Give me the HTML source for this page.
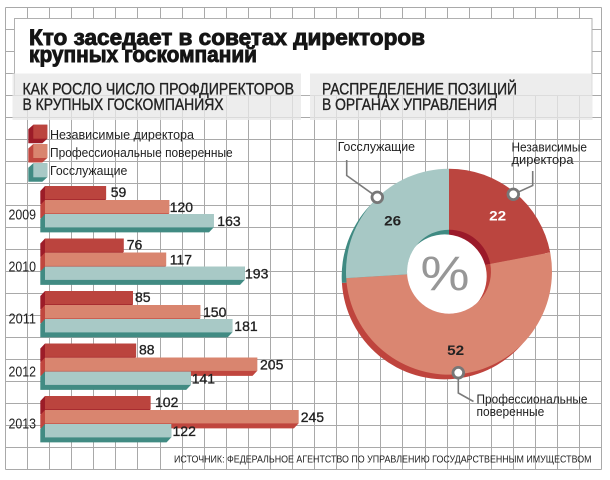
<!DOCTYPE html>
<html><head><meta charset="utf-8">
<style>
html,body{margin:0;padding:0;background:#fff;}
svg{display:block;}
text{font-family:"Liberation Sans","Noto Sans CJK SC",sans-serif;}
</style></head>
<body>
<svg width="610" height="480" viewBox="0 0 610 480" xmlns="http://www.w3.org/2000/svg">
<rect x="0" y="0" width="610" height="480" fill="#fff"/>
<!-- grid -->
<g stroke="#a9a9a9" stroke-width="1" fill="none">
<path d="M5.5 7.5V469.5M27.5 7.5V469.5M49.5 7.5V469.5M71.5 7.5V469.5M93.5 7.5V469.5M115.5 7.5V469.5M137.5 7.5V469.5M160.5 7.5V469.5M182.5 7.5V469.5M204.5 7.5V469.5M226.5 7.5V469.5M248.5 7.5V469.5M270.5 7.5V469.5M292.5 7.5V469.5M314.5 7.5V469.5M336.5 7.5V469.5M358.5 7.5V469.5M380.5 7.5V469.5M402.5 7.5V469.5M425.5 7.5V469.5M447.5 7.5V469.5M469.5 7.5V469.5M491.5 7.5V469.5M513.5 7.5V469.5M535.5 7.5V469.5M557.5 7.5V469.5M579.5 7.5V469.5M601.5 7.5V469.5"/>
<path d="M5.5 7.5H601.5M5.5 29.5H601.5M5.5 51.5H601.5M5.5 73.5H601.5M5.5 95.5H601.5M5.5 117.5H601.5M5.5 139.5H601.5M5.5 161.5H601.5M5.5 183.5H601.5M5.5 205.5H601.5M5.5 227.5H601.5M5.5 249.5H601.5M5.5 271.5H601.5M5.5 293.5H601.5M5.5 315.5H601.5M5.5 337.5H601.5M5.5 359.5H601.5M5.5 381.5H601.5M5.5 403.5H601.5M5.5 425.5H601.5M5.5 447.5H601.5M5.5 469.5H601.5"/>
</g>
<!-- title box -->
<rect x="14.5" y="18.5" width="577.5" height="77" fill="#fff" stroke="#b0b0b0" stroke-width="1"/>
<rect x="12.5" y="73.5" width="288.5" height="46.5" fill="#e8e8e8" fill-opacity="0.78"/>
<rect x="310" y="73.5" width="282.5" height="46.5" fill="#e8e8e8" fill-opacity="0.78"/>
<text x="29" y="45" font-size="22" font-weight="bold" fill="#151515" stroke="#151515" stroke-width="0.9" textLength="396" lengthAdjust="spacingAndGlyphs">Кто заседает в советах директоров</text>
<text x="29" y="62" font-size="22" font-weight="bold" fill="#151515" stroke="#151515" stroke-width="0.9" textLength="228" lengthAdjust="spacingAndGlyphs">крупных госкомпаний</text>
<g font-size="16.5" fill="#222" stroke="#222" stroke-width="0.35">
<text x="22.5" y="94.3" textLength="271.5" lengthAdjust="spacingAndGlyphs">КАК РОСЛО ЧИСЛО ПРОФДИРЕКТОРОВ</text>
<text x="22.5" y="110" textLength="201" lengthAdjust="spacingAndGlyphs">В КРУПНЫХ ГОСКОМПАНИЯХ</text>
<text x="322" y="94.3" textLength="195" lengthAdjust="spacingAndGlyphs">РАСПРЕДЕЛЕНИЕ ПОЗИЦИЙ</text>
<text x="322" y="110" textLength="175" lengthAdjust="spacingAndGlyphs">В ОРГАНАХ УПРАВЛЕНИЯ</text>
</g>
<!-- legend -->
<polygon points="33.3,124.7 47.3,124.7 47.3,138.7 42.3,143.2 28.3,143.2 28.3,129.2" fill="#9c1c28"/>
<rect x="33.3" y="124.7" width="14" height="14" fill="#bb443e"/>
<polygon points="33.3,144 47.3,144 47.3,158 42.3,162.5 28.3,162.5 28.3,148.5" fill="#c0463e"/>
<rect x="33.3" y="144" width="14" height="14" fill="#d9856f"/>
<polygon points="33.3,163.3 47.3,163.3 47.3,177.3 42.3,181.8 28.3,181.8 28.3,167.8" fill="#418b83"/>
<rect x="33.3" y="163.3" width="14" height="14" fill="#a8c9c6"/>
<g font-size="13" fill="#222">
<text x="50" y="138.9" textLength="144" lengthAdjust="spacingAndGlyphs">Независимые директора</text>
<text x="50" y="157" textLength="182.7" lengthAdjust="spacingAndGlyphs">Профессиональные поверенные</text>
<text x="50" y="175.2" textLength="77.3" lengthAdjust="spacingAndGlyphs">Госслужащие</text>
</g>
<!-- bars -->
<g>
<polygon points="45,186 106.07,186 106.07,199.4 101.37,204.4 40.3,204.4 40.3,191" fill="#9c1c28"/>
<rect x="45" y="186" width="61.07" height="13.4" fill="#bb443e"/>
<polygon points="45,200 169.2,200 169.2,213.4 164.5,218.4 40.3,218.4 40.3,205" fill="#c0463e"/>
<rect x="45" y="200" width="124.2" height="13.4" fill="#d9856f"/>
<polygon points="45,214 213.7,214 213.7,227.4 209,232.4 40.3,232.4 40.3,219" fill="#418b83"/>
<rect x="45" y="214" width="168.7" height="13.4" fill="#a8c9c6"/>
</g>
<g transform="translate(0,52.5)">
<polygon points="45,186 123.66,186 123.66,199.4 118.96,204.4 40.3,204.4 40.3,191" fill="#9c1c28"/>
<rect x="45" y="186" width="78.66" height="13.4" fill="#bb443e"/>
<polygon points="45,200 166.1,200 166.1,213.4 161.4,218.4 40.3,218.4 40.3,205" fill="#c0463e"/>
<rect x="45" y="200" width="121.1" height="13.4" fill="#d9856f"/>
<polygon points="45,214 244.76,214 244.76,227.4 240.06,232.4 40.3,232.4 40.3,219" fill="#418b83"/>
<rect x="45" y="214" width="199.76" height="13.4" fill="#a8c9c6"/>
</g>
<g transform="translate(0,105)">
<polygon points="45,186 132.98,186 132.98,199.4 128.28,204.4 40.3,204.4 40.3,191" fill="#9c1c28"/>
<rect x="45" y="186" width="87.98" height="13.4" fill="#bb443e"/>
<polygon points="45,200 200.25,200 200.25,213.4 195.55,218.4 40.3,218.4 40.3,205" fill="#c0463e"/>
<rect x="45" y="200" width="155.25" height="13.4" fill="#d9856f"/>
<polygon points="45,214 232.34,214 232.34,227.4 227.64,232.4 40.3,232.4 40.3,219" fill="#418b83"/>
<rect x="45" y="214" width="187.34" height="13.4" fill="#a8c9c6"/>
</g>
<g transform="translate(0,157.5)">
<polygon points="45,186 136.08,186 136.08,199.4 131.38,204.4 40.3,204.4 40.3,191" fill="#9c1c28"/>
<rect x="45" y="186" width="91.08" height="13.4" fill="#bb443e"/>
<polygon points="45,200 257.18,200 257.18,213.4 252.48,218.4 40.3,218.4 40.3,205" fill="#c0463e"/>
<rect x="45" y="200" width="212.18" height="13.4" fill="#d9856f"/>
<polygon points="45,214 190.94,214 190.94,227.4 186.24,232.4 40.3,232.4 40.3,219" fill="#418b83"/>
<rect x="45" y="214" width="145.94" height="13.4" fill="#a8c9c6"/>
</g>
<g transform="translate(0,210)">
<polygon points="45,186 150.57,186 150.57,199.4 145.87,204.4 40.3,204.4 40.3,191" fill="#9c1c28"/>
<rect x="45" y="186" width="105.57" height="13.4" fill="#bb443e"/>
<polygon points="45,200 298.58,200 298.58,213.4 293.88,218.4 40.3,218.4 40.3,205" fill="#c0463e"/>
<rect x="45" y="200" width="253.58" height="13.4" fill="#d9856f"/>
<polygon points="45,214 171.27,214 171.27,227.4 166.57,232.4 40.3,232.4 40.3,219" fill="#418b83"/>
<rect x="45" y="214" width="126.27" height="13.4" fill="#a8c9c6"/>
</g>
<!-- value labels -->
<g font-size="14" fill="#222" stroke="#222" stroke-width="0.3">
<text x="110.7" y="196.8">59</text>
<text x="169.7" y="212">120</text>
<text x="217.3" y="226">163</text>
<g transform="translate(0,52.5)">
<text x="126.7" y="196.8">76</text>
<text x="169.7" y="212">117</text>
<text x="245" y="226">193</text>
</g>
<g transform="translate(0,105)">
<text x="135" y="196.8">85</text>
<text x="203" y="212">150</text>
<text x="234.3" y="226">181</text>
</g>
<g transform="translate(0,157.5)">
<text x="139" y="196.8">88</text>
<text x="260" y="212">205</text>
<text x="191.7" y="226">141</text>
</g>
<g transform="translate(0,210)">
<text x="155" y="196.8">102</text>
<text x="300.7" y="212">245</text>
<text x="172.5" y="226">122</text>
</g>
</g>
<!-- years -->
<g font-size="14.5" fill="#222">
<text x="8.5" y="219.3" textLength="27.5" lengthAdjust="spacingAndGlyphs">2009</text>
<text x="8.5" y="271.7" textLength="27.5" lengthAdjust="spacingAndGlyphs">2010</text>
<text x="8.5" y="323.6" textLength="27.5" lengthAdjust="spacingAndGlyphs">2011</text>
<text x="8.5" y="376.5" textLength="27.5" lengthAdjust="spacingAndGlyphs">2012</text>
<text x="8.5" y="428.5" textLength="27.5" lengthAdjust="spacingAndGlyphs">2013</text>
</g>
<!-- donut -->
<defs>
<clipPath id="hole"><circle cx="449" cy="271.7" r="42"/></clipPath>
</defs>
<path d="M444.7,276.4 L444.7,173.4 A103,103 0 0,1 545.88,257.1 Z" fill="#9c1c28"/>
<path d="M444.7,276.4 L545.88,257.1 A103,103 0 1,1 341.9,282.87 Z" fill="#bf443d"/>
<path d="M444.7,276.4 L341.9,282.87 A103,103 0 0,1 444.7,173.4 Z" fill="#3f8a82"/>
<path d="M449,271.7 L449,168.7 A103,103 0 0,1 550.18,252.4 Z" fill="#bb453f"/>
<path d="M449,271.7 L550.18,252.4 A103,103 0 1,1 346.2,278.17 Z" fill="#da8671"/>
<path d="M449,271.7 L346.2,278.17 A103,103 0 0,1 449,168.7 Z" fill="#a7c8c5"/>
<path d="M449,271.7 L449,229.7 A42,42 0 0,1 490.26,263.83 Z" fill="#9b1a2a"/>
<path d="M449,271.7 L490.26,263.83 A42,42 0 1,1 407.08,274.34 Z" fill="#bf443d"/>
<path d="M449,271.7 L407.08,274.34 A42,42 0 0,1 449,229.7 Z" fill="#3f8a82"/>
<circle cx="444.7" cy="276.4" r="42" fill="#fff" clip-path="url(#hole)"/>
<text x="445" y="290" font-size="48" fill="#979797" text-anchor="middle" textLength="49" lengthAdjust="spacingAndGlyphs">%</text>
<g font-size="14" font-weight="bold">
<text x="497.7" y="220.7" fill="#fff" text-anchor="middle" textLength="17" lengthAdjust="spacingAndGlyphs">22</text>
<text x="392.7" y="225.7" fill="#222" text-anchor="middle" textLength="17" lengthAdjust="spacingAndGlyphs">26</text>
<text x="455.7" y="355" fill="#222" text-anchor="middle" textLength="17" lengthAdjust="spacingAndGlyphs">52</text>
</g>
<!-- leaders -->
<g stroke="#7b7b7b" stroke-width="1.6" fill="none">
<polyline points="346.7,160 346.7,175.5 377.3,197.3"/>
<polyline points="532.7,171 532.7,185.5 513.3,194.3"/>
<polyline points="458.3,372.7 458.3,393 473.5,401.5"/>
</g>
<g stroke="#777" stroke-width="2.8" fill="#fff">
<circle cx="377.3" cy="197.3" r="5.3"/>
<circle cx="513.3" cy="194.3" r="5.3"/>
<circle cx="458.3" cy="372.7" r="5.3"/>
</g>
<g font-size="13" fill="#222">
<text x="337.7" y="151" textLength="77.3" lengthAdjust="spacingAndGlyphs">Госслужащие</text>
<text x="511.5" y="151.3" textLength="75.5" lengthAdjust="spacingAndGlyphs">Независимые</text>
<text x="511.5" y="164" textLength="62" lengthAdjust="spacingAndGlyphs">директора</text>
<text x="476.5" y="403.3" textLength="111" lengthAdjust="spacingAndGlyphs">Профессиональные</text>
<text x="476.5" y="416" textLength="67.8" lengthAdjust="spacingAndGlyphs">поверенные</text>
</g>
<!-- source -->
<text x="174" y="462.3" font-size="10" fill="#222" textLength="417.5" lengthAdjust="spacingAndGlyphs">ИСТОЧНИК: ФЕДЕРАЛЬНОЕ АГЕНТСТВО ПО УПРАВЛЕНИЮ ГОСУДАРСТВЕННЫМ ИМУЩЕСТВОМ</text>
</svg>
</body></html>
